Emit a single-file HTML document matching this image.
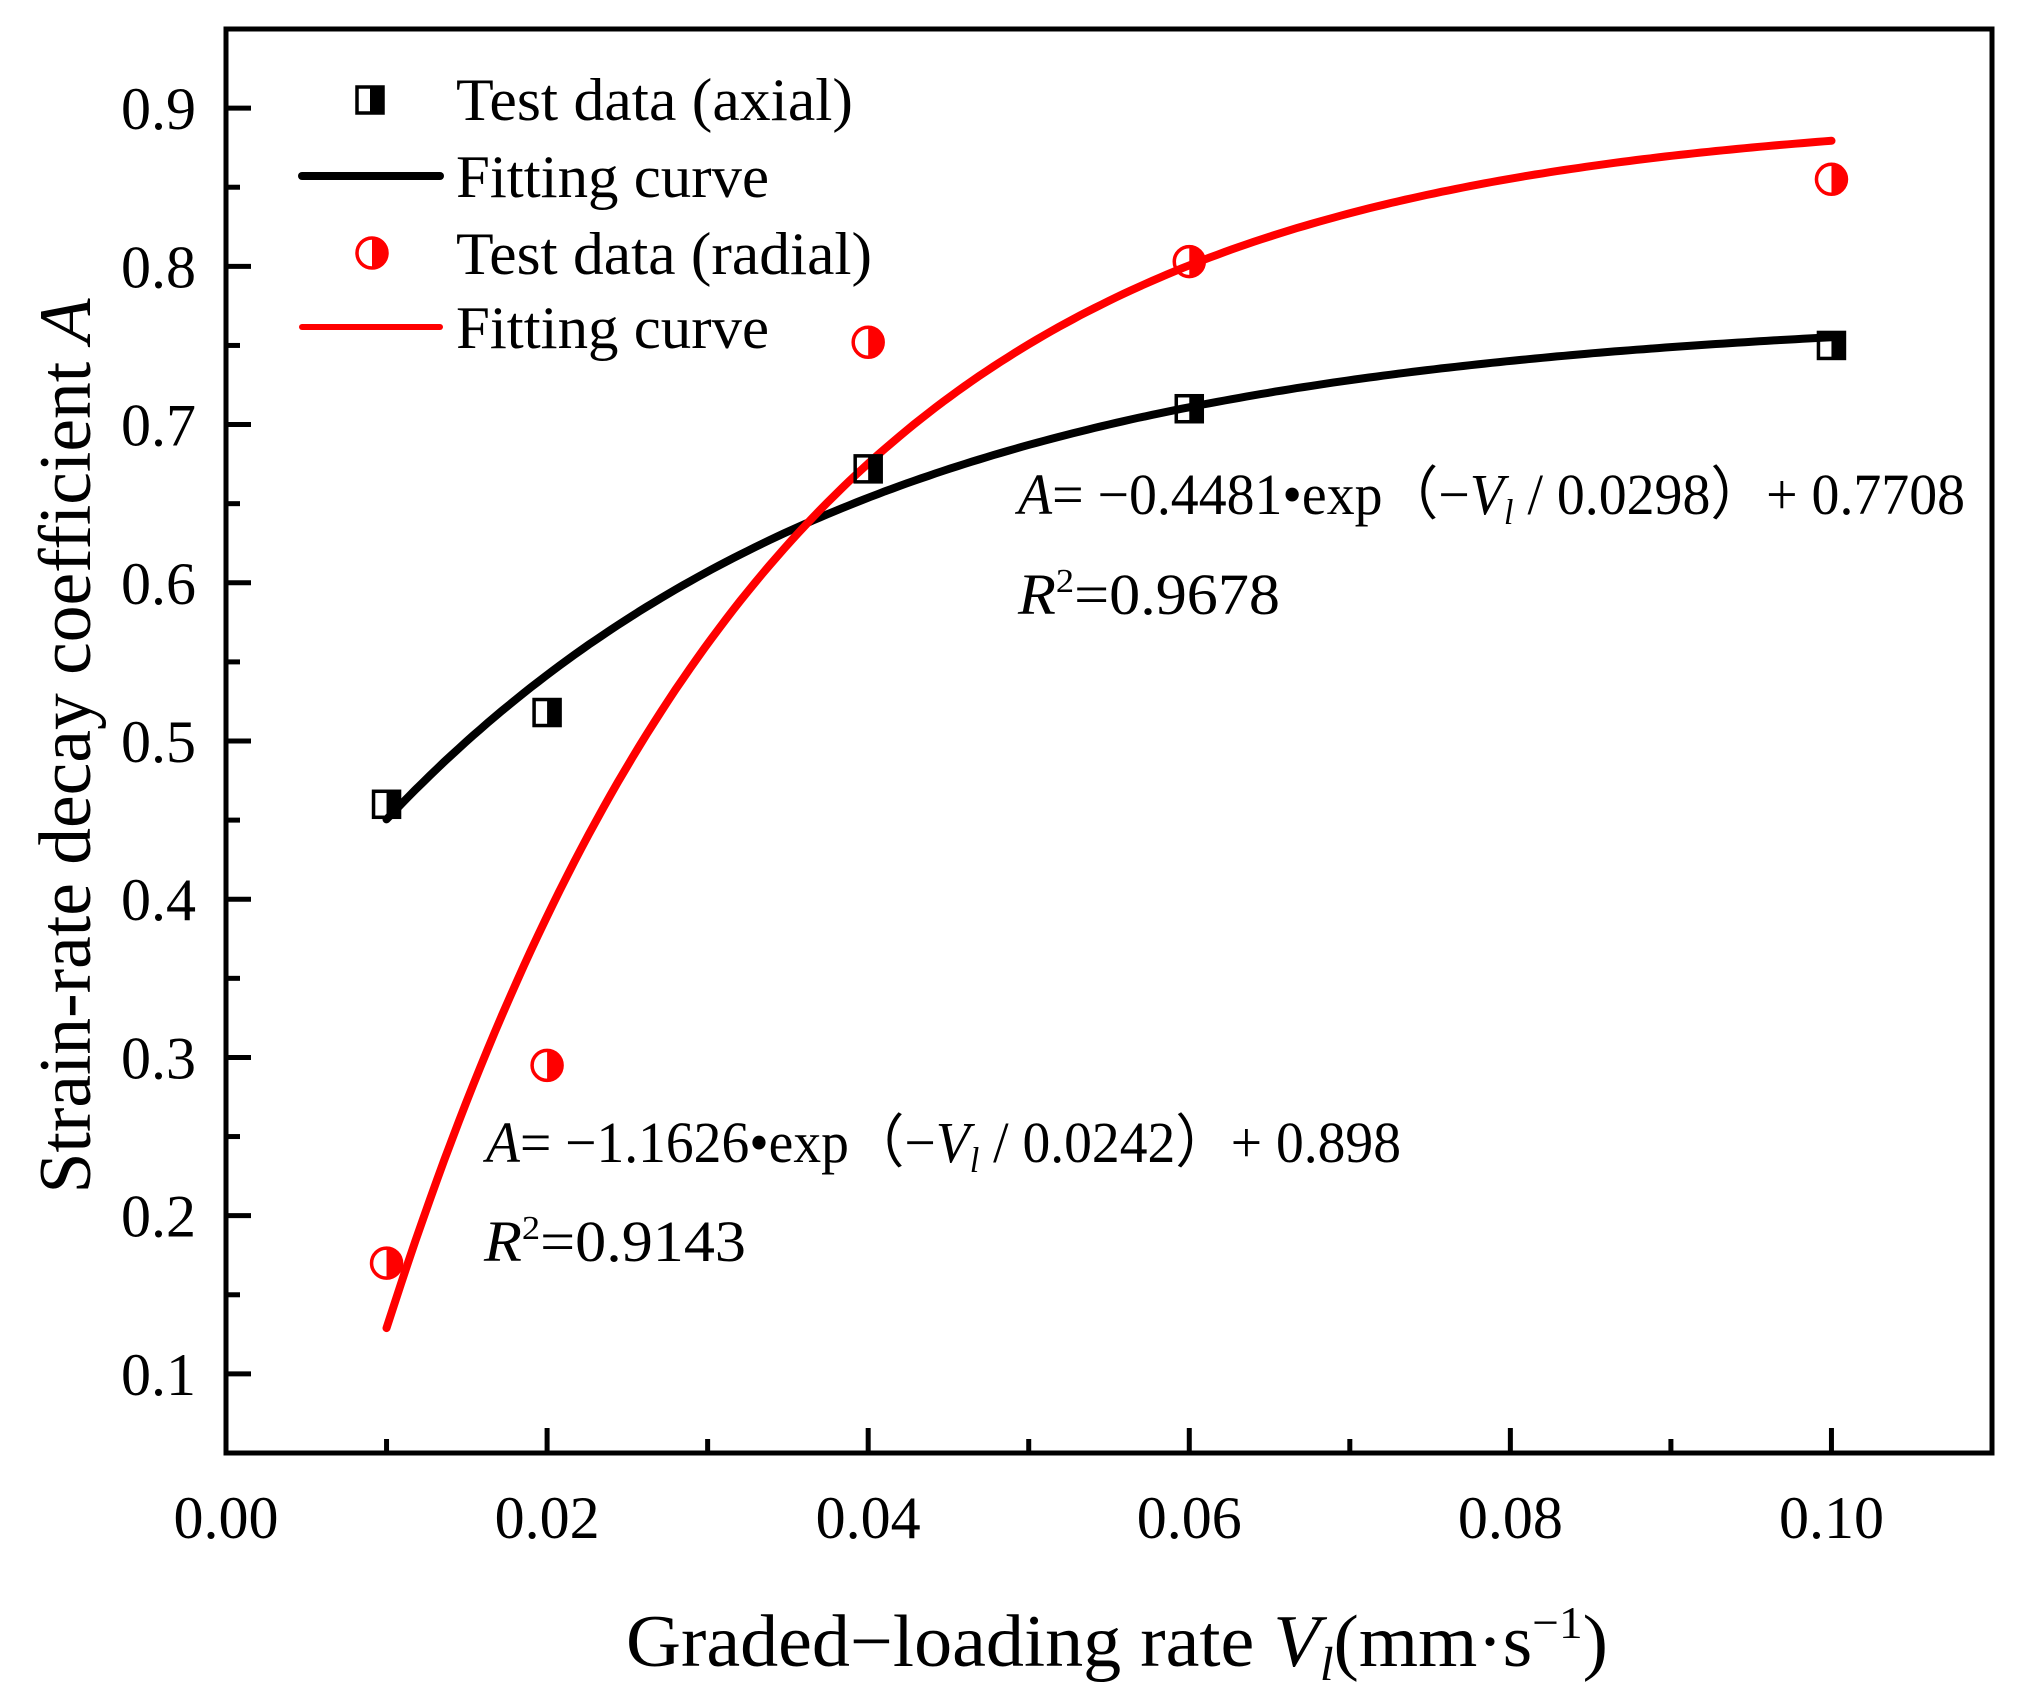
<!DOCTYPE html>
<html><head><meta charset="utf-8"><style>
html,body{margin:0;padding:0;background:#fff;}
svg{display:block;font-family:"Liberation Serif",serif;}
</style></head><body>
<svg id="chart" width="2023" height="1697" viewBox="0 0 2023 1697" xmlns="http://www.w3.org/2000/svg">
<g id="plot"></g>
</svg>
<script>
const xCats = [0.01, 0.02, 0.04, 0.06, 0.10];
const axialVals = [0.46, 0.518, 0.672, 0.71, 0.75];
const radialVals = [0.17, 0.295, 0.752, 0.803, 0.855];
const xTicks = [0.00, 0.02, 0.04, 0.06, 0.08, 0.10];
const xTickLabels = ["0.00","0.02","0.04","0.06","0.08","0.10"];
const yTicks = [0.1,0.2,0.3,0.4,0.5,0.6,0.7,0.8,0.9];
const yTickLabels = ["0.1","0.2","0.3","0.4","0.5","0.6","0.7","0.8","0.9"];
const axialFit = [-0.4481, 0.0298, 0.7708];
const radialFit = [-1.1626, 0.0242, 0.898];

const L=226,R=1992,T=29,B=1453;
const xmin=0,xmax=0.11,ymin=0.05,ymax=0.95;
const sx=v=>L+(v-xmin)/(xmax-xmin)*(R-L);
const sy=v=>B-(v-ymin)/(ymax-ymin)*(B-T);
const NS='http://www.w3.org/2000/svg';
const g=document.getElementById('plot');
function mk(tag,attrs,parent){const e=document.createElementNS(NS,tag);for(const k in attrs)e.setAttribute(k,attrs[k]);(parent||g).appendChild(e);return e;}

function curve(p,color,name){
  let d='';
  for(let i=0;i<=200;i++){const x=xCats[0]+(xCats[xCats.length-1]-xCats[0])*i/200;const y=p[0]*Math.exp(-x/p[1])+p[2];d+=(i?'L':'M')+sx(x).toFixed(1)+','+sy(y).toFixed(1);}
  const e=mk('path',{d:d,fill:'none',stroke:color,'stroke-width':8,'stroke-linecap':'round'});
  
  
}
curve(axialFit,'#000','axial-fit-curve');
curve(radialFit,'#f00','radial-fit-curve');

function square(cx,cy,name){
  const grp=mk('g',{});
  
  
  const s=13;
  mk('rect',{x:cx,y:cy-s,width:s,height:2*s,fill:'#000'},grp);
  mk('rect',{x:cx-s,y:cy-s,width:2*s,height:2*s,fill:'none',stroke:'#000','stroke-width':3.5},grp);
}
function circ(cx,cy,name){
  const grp=mk('g',{});
  
  
  const r=15;
  mk('path',{d:`M${cx},${cy-r} A${r},${r} 0 0 1 ${cx},${cy+r} Z`,fill:'#f00'},grp);
  mk('circle',{cx:cx,cy:cy,r:r,fill:'none',stroke:'#f00','stroke-width':3.5},grp);
}
xCats.forEach((x,i)=>{square(sx(x),sy(axialVals[i]),'axial-point');});
xCats.forEach((x,i)=>{circ(sx(x),sy(radialVals[i]),'radial-point');});

const fr=mk('rect',{x:L,y:T,width:R-L,height:B-T,fill:'none',stroke:'#000','stroke-width':5});



for(let k=0;k<=10;k++){
  const v=k*0.01; const major=k%2===0; const X=sx(v);
  const t=mk('line',{x1:X,y1:B,x2:X,y2:B-(major?25:14),stroke:'#000','stroke-width':5});
  
  
}
xTicks.forEach((v,i)=>{
  const t=mk('text',{x:sx(v),y:1538,'font-size':60,'text-anchor':'middle'});
  t.textContent=xTickLabels[i];
  
  
});
for(let k=1;k<=18;k++){
  const v=0.05*k; const major=k%2===0; const Y=sy(v);
  if(Y<T+2)continue;
  const t=mk('line',{x1:L,y1:Y,x2:L+(major?25:14),y2:Y,stroke:'#000','stroke-width':5});
  
  
}
yTicks.forEach((v,i)=>{
  const t=mk('text',{x:196,y:sy(v)+21,'font-size':60,'text-anchor':'end'});
  t.textContent=yTickLabels[i];
  
  
});
</script>
<svg style="position:absolute;left:0;top:0" width="2023" height="1697" viewBox="0 0 2023 1697" xmlns="http://www.w3.org/2000/svg" font-family="Liberation Serif, serif">
<g font-size="60">
 <g><rect x="370" y="87" width="13" height="26" fill="#000"/><rect x="357" y="87" width="26" height="26" fill="none" stroke="#000" stroke-width="3.5"/></g>
 <text x="456" y="120" textLength="397" lengthAdjust="spacingAndGlyphs">Test data (axial)</text>
 <line x1="302" y1="176" x2="440" y2="176" stroke="#000" stroke-width="8" stroke-linecap="round"/>
 <text x="456" y="197" textLength="313" lengthAdjust="spacingAndGlyphs">Fitting curve</text>
 <g><path d="M372,238 A15,15 0 0 1 372,268 Z" fill="#f00"/><circle cx="372" cy="253" r="15" fill="none" stroke="#f00" stroke-width="3.5"/></g>
 <text x="456" y="274" textLength="416" lengthAdjust="spacingAndGlyphs">Test data (radial)</text>
 <line x1="302" y1="327" x2="440" y2="327" stroke="#f00" stroke-width="6" stroke-linecap="round"/>
 <text x="456" y="348" textLength="313" lengthAdjust="spacingAndGlyphs">Fitting curve</text>
</g>
<text x="1018" y="514" font-size="58" textLength="947" lengthAdjust="spacingAndGlyphs"><tspan font-style="italic">A</tspan>= −0.4481•exp（−<tspan font-style="italic">V</tspan><tspan font-style="italic" font-size="36" dy="10">l</tspan><tspan dy="-10"> / 0.0298）+ 0.7708</tspan></text>
<text x="1018" y="614" font-size="58" textLength="262" lengthAdjust="spacingAndGlyphs"><tspan font-style="italic">R</tspan><tspan font-size="34" dy="-22">2</tspan><tspan dy="22">=0.9678</tspan></text>
<text x="486" y="1162" font-size="58" textLength="915" lengthAdjust="spacingAndGlyphs"><tspan font-style="italic">A</tspan>= −1.1626•exp（−<tspan font-style="italic">V</tspan><tspan font-style="italic" font-size="36" dy="10">l</tspan><tspan dy="-10"> / 0.0242）+ 0.898</tspan></text>
<text x="484" y="1261" font-size="58" textLength="262" lengthAdjust="spacingAndGlyphs"><tspan font-style="italic">R</tspan><tspan font-size="34" dy="-22">2</tspan><tspan dy="22">=0.9143</tspan></text>
<text x="626" y="1666" font-size="74" textLength="982" lengthAdjust="spacingAndGlyphs">Graded−loading rate <tspan font-style="italic">V</tspan><tspan font-style="italic" font-size="48" dy="14">l</tspan><tspan dy="-14">(mm·s</tspan><tspan font-size="46" dy="-28">−1</tspan><tspan dy="28">)</tspan></text>
<text transform="translate(90,746) rotate(-90)" font-size="74" text-anchor="middle" textLength="895" lengthAdjust="spacingAndGlyphs">Strain-rate decay coefficient <tspan font-style="italic">A</tspan></text>
</svg>
</body></html>
